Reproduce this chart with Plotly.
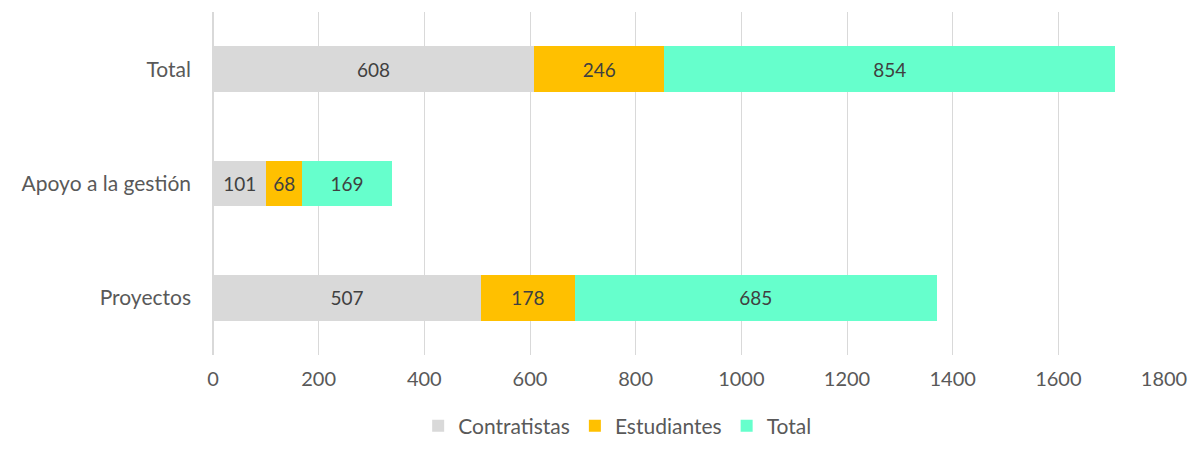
import plotly.graph_objects as go

categories = ["Proyectos", "Apoyo a la gestión", "Total"]
contratistas = [507, 101, 608]
estudiantes = [178, 68, 246]
total = [685, 169, 854]

series = [
    ("Contratistas", contratistas, "#d9d9d9"),
    ("Estudiantes", estudiantes, "#ffc000"),
    ("Total", total, "#66ffcc"),
]

fig = go.Figure()
for name, vals, color in series:
    fig.add_trace(go.Bar(
        y=categories, x=vals, name=name, orientation="h",
        marker=dict(color=color, line=dict(width=0)),
        text=vals, textposition="inside", insidetextanchor="middle",
        textfont=dict(color="#404040", size=19),
        constraintext="none",
    ))

# page body adds an 8px offset, so the figure is 8px smaller than the window
fig.update_layout(
    barmode="stack",
    bargap=0.6,
    width=1190, height=442,
    margin=dict(l=205, r=34, t=4, b=93),
    plot_bgcolor="white", paper_bgcolor="white",
    font=dict(family="Lato, Open Sans, sans-serif", size=20, color="#595959"),
    uniformtext=dict(minsize=8, mode=False),
    legend=dict(orientation="h", x=0.425, xanchor="center", y=-0.267, yanchor="bottom",
                font=dict(size=21), traceorder="normal", itemwidth=30),
    xaxis=dict(range=[0, 1800], dtick=200, showgrid=True, gridcolor="#d9d9d9",
               gridwidth=1, zeroline=True, zerolinecolor="#d9d9d9",
               ticks="", ticklabelstandoff=10, automargin=False,
               tickfont=dict(size=20)),
    yaxis=dict(showgrid=False, ticks="", automargin=False,
               ticklabelstandoff=21, tickfont=dict(size=21)),
)

fig.write_html("out.html")
